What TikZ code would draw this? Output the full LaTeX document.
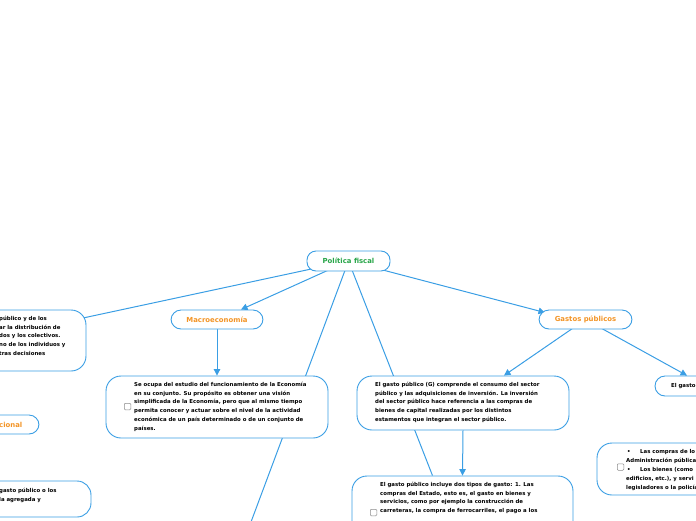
\documentclass[tikz,border=0pt]{standalone}
\usepackage{fontspec}
\setmainfont{DejaVu Sans}
\usetikzlibrary{arrows.meta,backgrounds}
\definecolor{lineblue}{HTML}{3A9EE4}
\definecolor{titlegreen}{HTML}{27A548}
\definecolor{titleorange}{HTML}{F39425}
\definecolor{chkgray}{HTML}{8C8C8C}
\tikzset{
 box/.style={draw=lineblue, line width=0.9pt, fill=white, rounded corners=10pt, inner sep=0pt},
 title/.style={font=\fontsize{6.9}{8}\selectfont\bfseries},
 body/.style={font=\fontsize{5.4}{8.7}\selectfont\bfseries, align=left, inner sep=0pt, anchor=north west},
 chk/.style={draw=chkgray, line width=0.5pt, rounded corners=1pt, minimum size=6.5pt, inner sep=0pt, fill=white},
 conn/.style={draw=lineblue, line width=1pt},
 arr/.style={conn, -{Triangle[length=6.5pt,width=6.5pt]}},
}
\begin{document}
\begin{tikzpicture}[x=1pt,y=-1pt]
\useasboundingbox (0,0) rectangle (696,520);
% main titles
\node[box, minimum width=83pt, minimum height=20pt, rounded corners=9pt, title, text=titlegreen] (pf) at (348.5,261) {Política fiscal};
\node[box, minimum width=92pt, minimum height=19pt, title, text=titleorange] (mac) at (217,319.5) {Macroeconomía};
\node[box, minimum width=93pt, minimum height=19pt, title, text=titleorange] (gp) at (585.5,319.5) {Gastos públicos};
% left cut-off boxes
\node[box, minimum width=146pt, minimum height=61pt, rounded corners=15pt] (lft) at (13,340.5) {};
\node[body] (lfttxt) at (-1,316) {público y de los\\ar la distribución de\\dos y los colectivos.\\no de los individuos y\\tras decisiones};
\node[box, minimum width=100pt, minimum height=19pt] (nac) at (-11,424.5) {};
\node[title, text=titleorange, anchor=east, inner sep=0pt] (nactxt) at (22.5,424.5) {cional};
\node[box, minimum width=151pt, minimum height=36pt, rounded corners=14pt] (bl) at (15.5,499) {};
\node[body, font=\fontsize{5.4}{9.5}\selectfont\bfseries] (bltxt) at (-1,487.5) {gasto público o los\\la agregada y};
% macro description
\node[box, minimum width=222pt, minimum height=62pt, rounded corners=15pt] (macd) at (217,407) {};
\node[chk] (macchk) at (127.5,406.5) {};
\node[body] (macdtxt) at (134,382) {Se ocupa del estudio del funcionamiento de la Economía\\en su conjunto. Su propósito es obtener una visión\\simplificada de la Economía, pero que al mismo tiempo\\permita conocer y actuar sobre el nivel de la actividad\\económica de un país determinado o de un conjunto de\\países.};
% gasto publico description
\node[box, minimum width=212pt, minimum height=54pt, rounded corners=15pt] (gd) at (463,403) {};
\node[body] (gdtxt) at (375,382) {El gasto público (G) comprende el consumo del sector\\público y las adquisiciones de inversión. La inversión\\del sector público hace referencia a las compras de\\bienes de capital realizadas por los distintos\\estamentos que integran el sector público.};
% bottom box
\node[box, minimum width=221pt, minimum height=84pt, rounded corners=15pt] (bot) at (462.5,518) {};
\node[chk] (botchk) at (373.5,512.5) {};
\node[body] (bottxt) at (380,482) {El gasto público incluye dos tipos de gasto: 1. Las\\compras del Estado, esto es, el gasto en bienes y\\servicios, como por ejemplo la construcción de\\carreteras, la compra de ferrocarriles, el pago a los};
% right boxes
\node[box, minimum width=105pt, minimum height=20pt] (rg) at (707.5,386) {};
\node[body, anchor=west] (rgtxt) at (671,386) {El gasto};
\node[box, minimum width=163pt, minimum height=52pt, rounded corners=15pt] (rb) at (678.5,469) {};
\node[chk] (rbchk) at (620.5,467) {};
\node[body, font=\fontsize{5.4}{9}\selectfont\bfseries] (rbtxt) at (626,449.5) {\makebox[14pt][l]{\hspace{1pt}•}Las compras de lo\\Administración pública\\\makebox[14pt][l]{\hspace{1pt}•}Los bienes (como\\edificios, etc.), y servi\\legisladores o la policía};
\coordinate (offbl) at (248,530);
% connectors
\begin{pgfonlayer}{background}
\draw[conn] (pf.center) -- ([xshift=-6pt,yshift=-9pt]lft.north east);
\draw[arr] (pf.center) -- ([xshift=24pt]mac.north);
\draw[conn] (pf.center) -- (offbl);
\draw[conn] (pf.center) -- ([xshift=-30pt]bot.north);
\draw[arr] (pf.center) -- ([xshift=-40.5pt,yshift=-3pt]gp.north);
\draw[arr] (mac.south) -- (macd.north);
\draw[arr] (gp.center) -- ([xshift=41pt]gd.north);
\draw[arr] (gp.center) -- ([xshift=-20.5pt]rg.north);
\draw[arr] (gd.south) -- (bot.north);
\end{pgfonlayer}
\end{tikzpicture}
\end{document}
